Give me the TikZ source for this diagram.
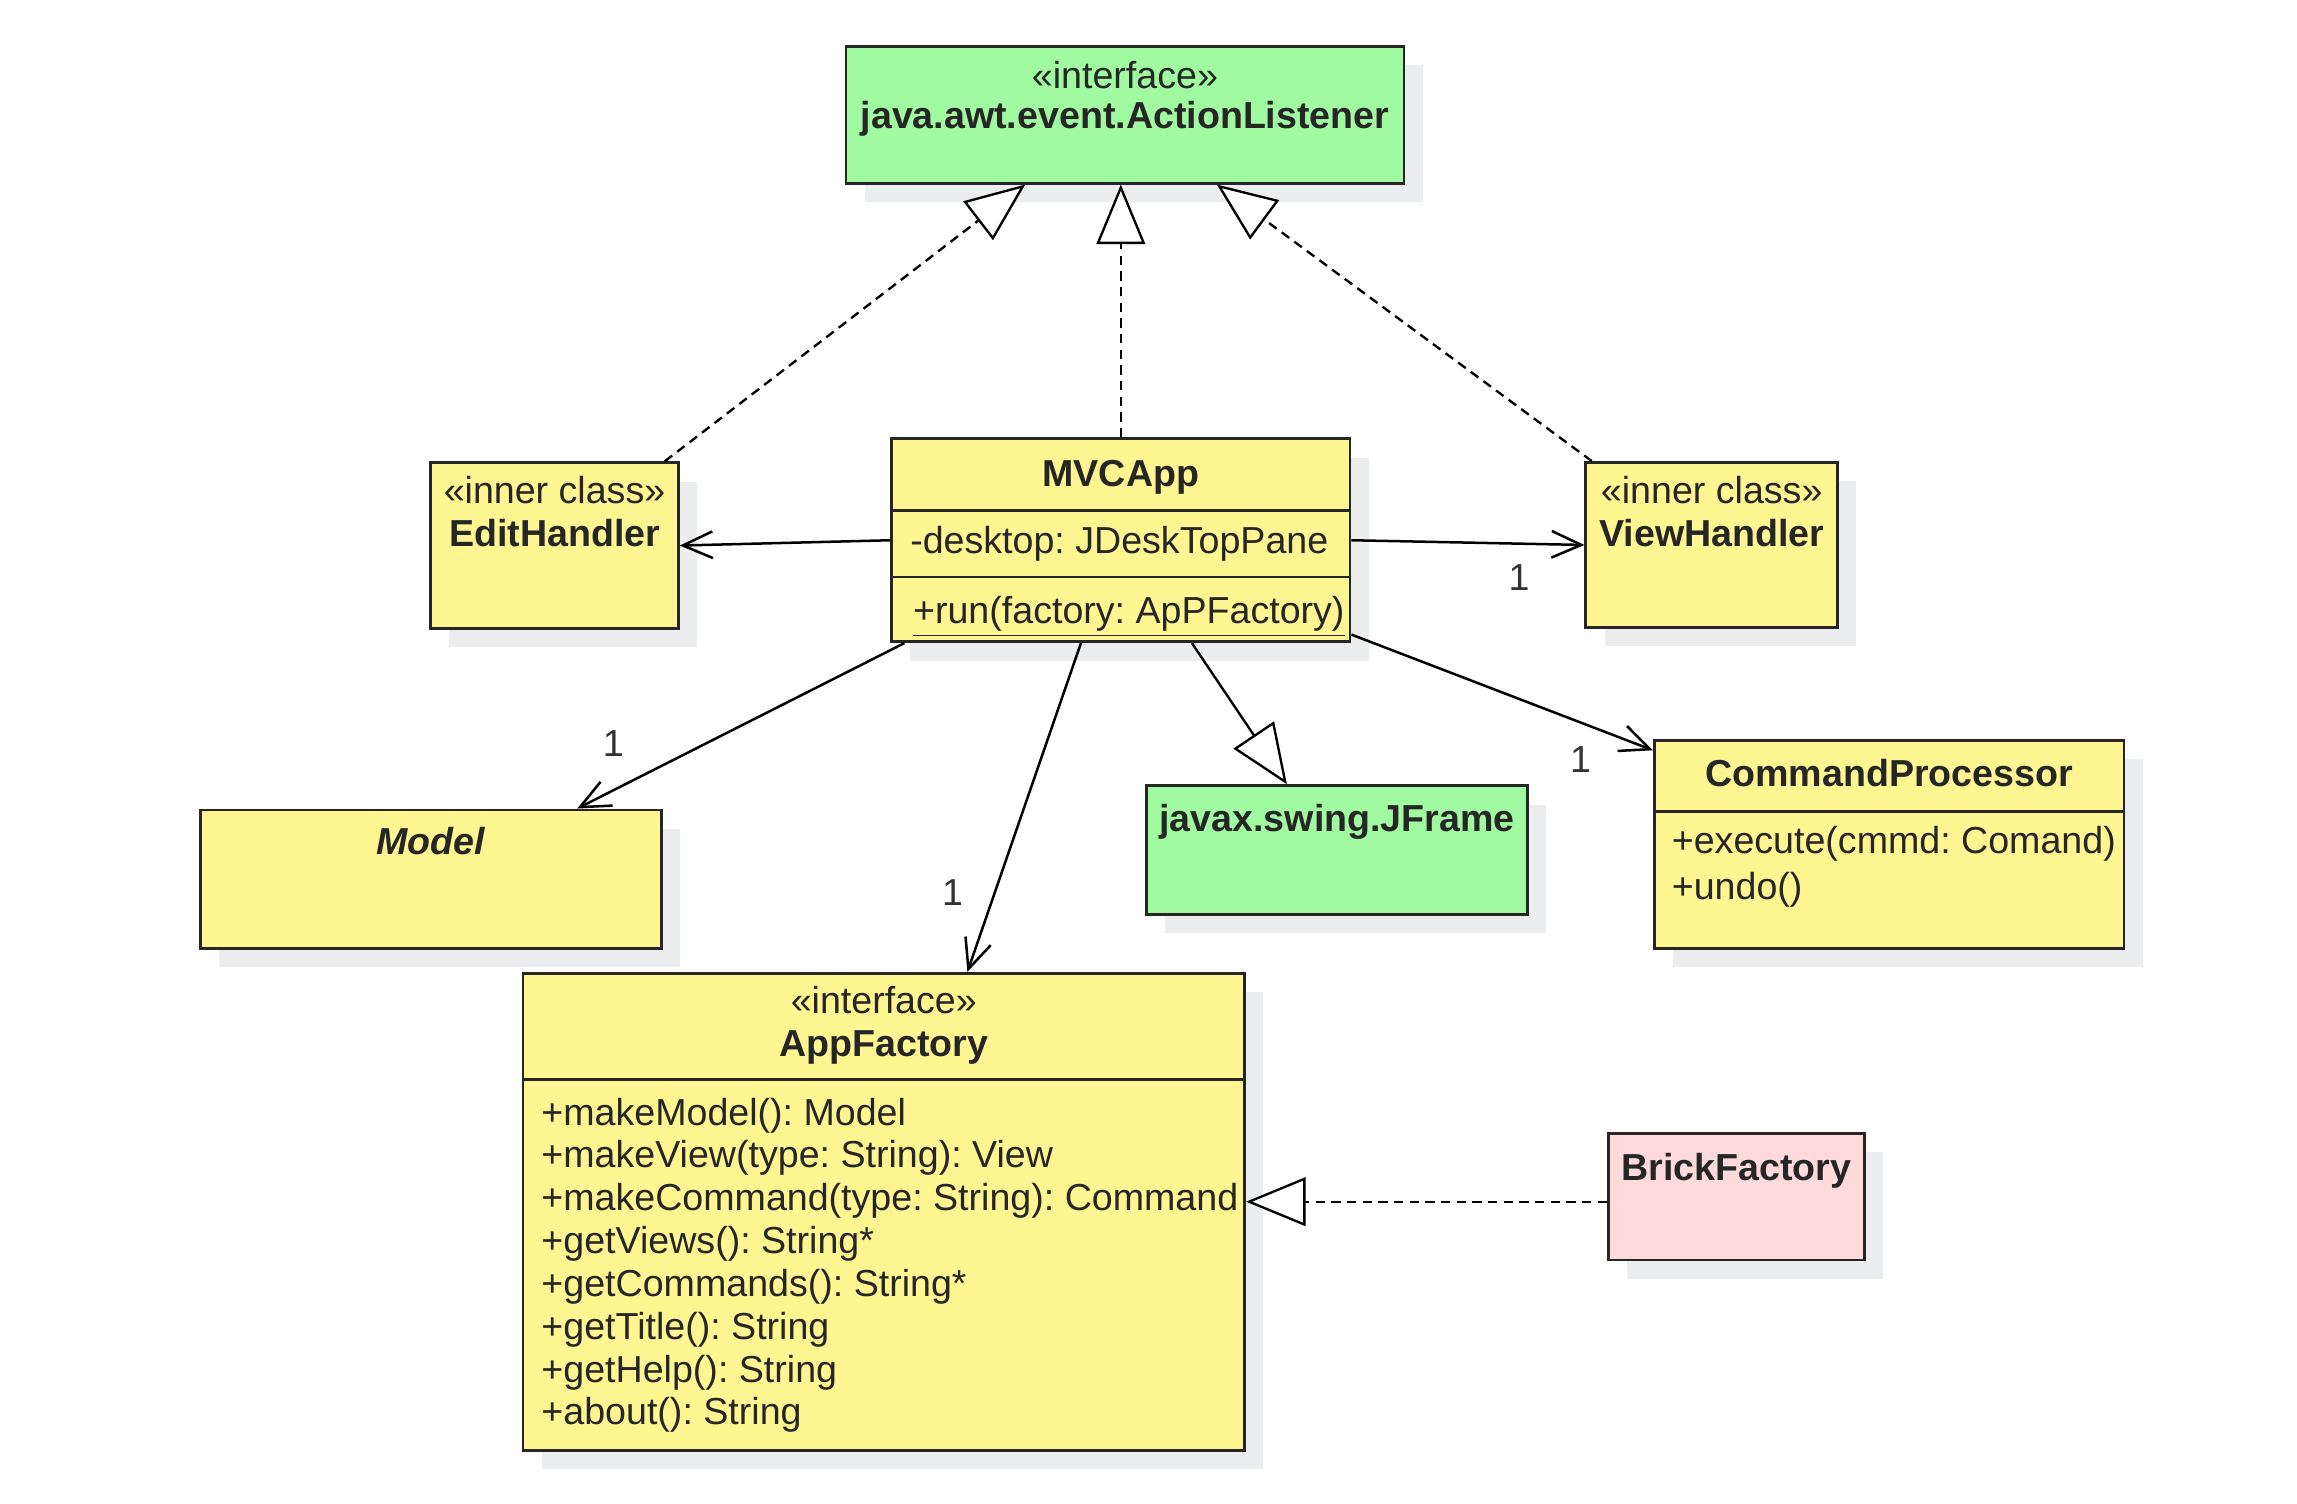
\documentclass[tikz,border=0pt]{standalone}
\usepackage{fontspec}
\setmainfont{Liberation Sans}
\usetikzlibrary{shapes,arrows,arrows.meta,calc,positioning,shadows}
\frenchspacing

\definecolor{clsyellow}{RGB}{255,246,145}
\definecolor{ifgreen}{RGB}{160,250,160}
\definecolor{brickpink}{RGB}{255,218,218}
\definecolor{shadowgrey}{RGB}{236,237,239}
\newcommand\pxu{0.47pt}

\begin{document}
\begin{tikzpicture}[x=\pxu, y=-\pxu,
    every node/.style={font=\fontsize{12}{14}\selectfont, text=black!85},
    cls/.style={draw=black!85, line width=0.9pt, inner sep=0pt, fill=clsyellow,
                drop shadow={shadow xshift=6pt, shadow yshift=-6pt, fill=shadowgrey, opacity=1}},
    boxsize/.style 2 args={minimum width=#1*\pxu, minimum height=#2*\pxu},
    divider/.style={draw=black!85, line width=0.9pt},
    txt/.style={inner sep=0pt, anchor=mid},
    member/.style={inner sep=0pt, anchor=mid west},
    lab/.style={inner sep=0pt, text=black!80},
    assoc/.style={-{Straight Barb[length=9.5pt, width=8.5pt]}, line width=0.8pt},
    gen/.style={-{Triangle[open, length=19pt, width=15.5pt, fill=white]}, line width=0.75pt},
    real/.style={gen, dash pattern=on 3pt off 2pt}]

  \fill[white] (0,0) rectangle (1560,1021.4);
  \useasboundingbox (0,0) rectangle (1560,1021.4);

  % interfaces and classes
  \node[cls, fill=ifgreen, boxsize={378.9}{92.7}] (al) at (764,78) {};
  \node[txt] (al-st) at (764,54.3) {«interface»};
  \node[txt] (al-name) at (764,81.5) {\textbf{java.awt.event.ActionListener}};

  \node[cls, boxsize={168.2}{112.5}] (eh) at (376.6,370.5) {};
  \node[txt] (eh-st) at (376.6,336.5) {«inner class»};
  \node[txt] (eh-name) at (376.6,365.6) {\textbf{EditHandler}};

  \node[cls, boxsize={171}{112}] (vh) at (1162.5,370.1) {};
  \node[txt] (vh-st) at (1162.5,336.5) {«inner class»};
  \node[txt] (vh-name) at (1162.5,365.6) {\textbf{ViewHandler}};

  \node[cls, boxsize={311.3}{137.8}] (mvc) at (761.2,366.9) {};
  \node[txt] (mvc-name) at (761.2,325) {\textbf{MVCApp}};
  \node[member] (mvc-att) at (617.8,370.1) {-desktop: JDeskTopPane};
  \node[member] (mvc-op) at (619.7,417.7) {\underline{+run(factory: ApPFactory)}};
  \draw[divider] ($(mvc.north west)+(0,49.5)$) -- ($(mvc.north east)+(0,49.5)$);
  \draw[divider] ($(mvc.north west)+(0,94.8)$) -- ($(mvc.north east)+(0,94.8)$);

  \node[cls, boxsize={313.2}{93.9}] (model) at (292.7,597) {};
  \node[txt] (model-name) at (292.9,575) {\textbf{\textit{Model}}};

  \node[cls, fill=ifgreen, boxsize={258.5}{87.2}] (jf) at (908,577.2) {};
  \node[txt] (jf-name) at (908,559) {\textbf{javax.swing.JFrame}};

  \node[cls, boxsize={318.9}{141}] (cp) at (1283,573.5) {};
  \node[txt] (cp-name) at (1283,528.5) {\textbf{CommandProcessor}};
  \node[member] (cp-op1) at (1135,574) {+execute(cmmd: Comand)};
  \node[member] (cp-op2) at (1135,605) {+undo()};
  \draw[divider] ($(cp.north west)+(0,49)$) -- ($(cp.north east)+(0,49)$);

  \node[cls, boxsize={490.1}{323.8}] (af) at (600.2,822.9) {};
  \node[txt] (af-st) at (600.2,682.6) {«interface»};
  \node[txt] (af-name) at (600.2,712) {\textbf{AppFactory}};
  \draw[divider] ($(af.north west)+(0,73.2)$) -- ($(af.north east)+(0,73.2)$);
  \foreach \op [count=\k from 0] in {+makeModel(): Model, +makeView(type: String): View,
      +makeCommand(type: String): Command, +getViews(): String*, +getCommands(): String*,
      +getTitle(): String, +getHelp(): String, +about(): String}
    \node[member] (af-op\k) at (367.3,{758.4+29.1*\k}) {\op};

  \node[cls, fill=brickpink, boxsize={173.7}{86}] (bf) at (1179.2,812.7) {};
  \node[txt] (bf-name) at (1179.2,796) {\textbf{BrickFactory}};

  % realizations
  \path[real]
      ($(eh.north east)+(-10.2,0)$) edge ($(al.south west)+(122.7,0)$)
      (mvc.north) edge (mvc.north |- al.south)
      ($(vh.north west)+(5,0)$) edge ($(al.south west)+(252.8,0)$)
      ($(bf.west)+(0,3.4)$) edge ($(af.east |- bf.west)+(0,3.4)$);

  % generalization
  \path[gen] ($(mvc.south west)+(204.9,0)$) edge ($(jf.north west)+(96.2,0)$);

  % associations
  \path[assoc]
      (mvc.west) edge (eh.east)
      (mvc.east) edge node[lab, pos=.72, yshift=-10.7pt] (m-vh) {1} (vh.west)
      ($(mvc.south west)+(9.6,0)$) edge node[lab, pos=.89, yshift=14.8pt] (m-model) {1} ($(model.north west)+(256.9,0)$)
      ($(mvc.south west)+(129.5,0)$) edge node[lab, pos=.76, xshift=-13.4pt] (m-af) {1} ($(af.north west)+(302.8,0)$)
      ($(mvc.south east)+(0,-5.8)$) edge node[lab, pos=.76, yshift=-11.8pt] (m-cp) {1} ($(cp.north west)+(0,7.5)$);
\end{tikzpicture}
\end{document}
